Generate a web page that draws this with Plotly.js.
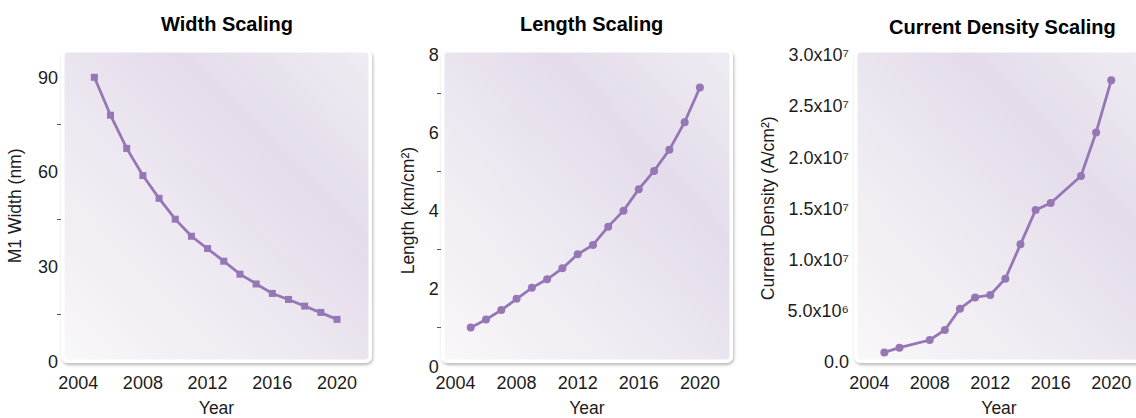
<!DOCTYPE html>
<html>
<head>
<meta charset="utf-8">
<script src="https://cdn.plot.ly/plotly-3.0.1.min.js"></script>
<style>
  html, body { margin: 0; padding: 0; overflow: hidden; background: #ffffff; }
  #chart { width: 1150px; height: 418px; }
</style>
</head>
<body>
<div id="chart"></div>
<script>
// ---------- data ----------
const years = [2005, 2006, 2007, 2008, 2009, 2010, 2011, 2012, 2013, 2014, 2015, 2016, 2017, 2018, 2019, 2020];
const widthNm = [90, 78, 67.5, 58.9, 51.7, 45.1, 39.7, 35.8, 31.8, 27.7, 24.6, 21.6, 19.7, 17.6, 15.6, 13.4];
const lengthKmPerCm2 = [1.00, 1.21, 1.45, 1.74, 2.02, 2.24, 2.52, 2.88, 3.12, 3.59, 4.00, 4.55, 5.02, 5.56, 6.27, 7.16];
const cdYears = [2005, 2006, 2008, 2009, 2010, 2011, 2012, 2013, 2014, 2015, 2016, 2018, 2019, 2020];
const currentDensity = [0.91e6, 1.37e6, 2.12e6, 3.10e6, 5.18e6, 6.29e6, 6.52e6, 8.12e6, 11.48e6, 14.84e6, 15.52e6, 18.16e6, 22.43e6, 27.52e6];

const yearTickVals = [2004, 2008, 2012, 2016, 2020];
const cdTickVals = [0, 5e6, 1e7, 1.5e7, 2e7, 2.5e7, 3e7];
const cdTickText = ['0.0', '5.0x10⁶', '1.0x10⁷', '1.5x10⁷', '2.0x10⁷', '2.5x10⁷', '3.0x10⁷'];

const panelTitles = ['Width Scaling', 'Length Scaling', 'Current Density Scaling'];
const yTitles = ['M1 Width (nm)', 'Length (km/cm²)', 'Current Density (A/cm²)'];
const xTitle = 'Year';

// ---------- geometry (pixels) ----------
const W = 1150, H = 418;
const px = x => x / W;
const py = y => 1 - y / H;

const LINE = '#9677b5';
const FONT = 'Liberation Sans, Arial, Helvetica, sans-serif';
const TXT = '#1c1c1c';

function panelImage(x0, y0, w, h) {
  const pad = 6;
  const vw = w + 2 * pad, vh = h + 2 * pad;
  const svg =
    `<svg xmlns="http://www.w3.org/2000/svg" width="${vw}" height="${vh}" viewBox="0 0 ${vw} ${vh}">` +
    `<defs>` +
    `<linearGradient id="g" x1="0" y1="1" x2="1" y2="0">` +
    `<stop offset="0" stop-color="#f8f7f9"/>` +
    `<stop offset="0.35" stop-color="#efebf2"/>` +
    `<stop offset="0.68" stop-color="#e4dceb"/>` +
    `<stop offset="1" stop-color="#efecf2"/>` +
    `</linearGradient>` +
    `<filter id="s" x="-10%" y="-10%" width="120%" height="120%">` +
    `<feDropShadow dx="1" dy="2" stdDeviation="1.6" flood-color="#000" flood-opacity="0.28"/>` +
    `</filter>` +
    `</defs>` +
    `<rect x="${pad}" y="${pad}" width="${w}" height="${h}" rx="7" ry="7" fill="#ffffff" filter="url(#s)"/>` +
    `<rect x="${pad + 3.5}" y="${pad + 3.5}" width="${w - 7}" height="${h - 7}" rx="3" ry="3" fill="url(#g)"/>` +
    `</svg>`;
  return {
    source: 'data:image/svg+xml;charset=utf-8,' + encodeURIComponent(svg),
    xref: 'paper', yref: 'paper',
    x: px(x0 - pad), y: py(y0 - pad),
    sizex: vw / W, sizey: vh / H,
    xanchor: 'left', yanchor: 'top',
    sizing: 'stretch', layer: 'below'
  };
}

const tickFont = { family: FONT, size: 18, color: TXT };
const titleFont = { family: FONT, size: 17.5, color: TXT };

function xAxis(d0, d1, r0, r1, anchor, standoff) {
  return {
    domain: [px(d0), px(d1)], range: [r0, r1], anchor: anchor,
    tickvals: yearTickVals, ticks: '', showgrid: false, zeroline: false, showline: false,
    tickfont: tickFont, ticklabelstandoff: standoff,
    title: { text: xTitle, font: titleFont, standoff: 16 }
  };
}

const layout = {
  width: W, height: H,
  margin: { l: 0, r: 0, t: 0, b: 0 },
  paper_bgcolor: '#ffffff', plot_bgcolor: 'rgba(0,0,0,0)',
  showlegend: false,
  font: { family: FONT, color: TXT },
  xaxis: xAxis(62, 371, 2003.0, 2022.1, 'y', 8),
  xaxis2: xAxis(441.7, 732, 2003.1, 2022.1, 'y2', 3),
  xaxis3: xAxis(855, 1143, 2003.06, 2022.1, 'y3', 8),
  yaxis: {
    domain: [py(361.7), py(50)], range: [0, 98.64], anchor: 'x',
    tickvals: [0, 30, 60, 90], ticks: '', showgrid: false, zeroline: false, showline: false,
    minor: { tickvals: [15, 45, 75], ticks: 'outside', ticklen: 4, tickcolor: '#555', tickwidth: 1, showgrid: false },
    tickfont: tickFont, ticklabelstandoff: 3,
    title: { text: yTitles[0], font: titleFont, standoff: 11 }
  },
  yaxis2: {
    domain: [py(366.6), py(54.7)], range: [0, 8], anchor: 'x2',
    tickvals: [0, 2, 4, 6, 8], ticks: '', showgrid: false, zeroline: false, showline: false,
    minor: { tickvals: [1, 3, 5, 7], ticks: 'outside', ticklen: 4, tickcolor: '#555', tickwidth: 1, showgrid: false },
    tickfont: tickFont, ticklabelstandoff: 2,
    title: { text: yTitles[1], font: titleFont, standoff: 9 }
  },
  yaxis3: {
    domain: [py(361.7), py(55)], range: [0, 3e7], anchor: 'x3',
    tickvals: cdTickVals, ticktext: cdTickText, ticks: '', showgrid: false, zeroline: false, showline: false,
    tickfont: tickFont, ticklabelstandoff: 5,
    title: { text: yTitles[2], font: titleFont, standoff: 8 }
  },
  images: [
    panelImage(61, 49, 311, 314),
    panelImage(441, 49, 292, 314),
    panelImage(854, 49, 300, 314)
  ],
  annotations: [
    { text: '<b>' + panelTitles[0] + '</b>', x: px(227), y: py(24), xref: 'paper', yref: 'paper',
      showarrow: false, xanchor: 'center', yanchor: 'middle', font: { family: FONT, size: 20, color: '#000' } },
    { text: '<b>' + panelTitles[1] + '</b>', x: px(591), y: py(24), xref: 'paper', yref: 'paper',
      showarrow: false, xanchor: 'center', yanchor: 'middle', font: { family: FONT, size: 20, color: '#000' } },
    { text: '<b>' + panelTitles[2] + '</b>', x: px(1002), y: py(27), xref: 'paper', yref: 'paper',
      showarrow: false, xanchor: 'center', yanchor: 'middle', font: { family: FONT, size: 20, color: '#000' } }
  ]
};

const data = [
  { x: years, y: widthNm, xaxis: 'x', yaxis: 'y', type: 'scatter', mode: 'lines+markers',
    line: { color: LINE, width: 2.8 }, marker: { color: LINE, size: 7, symbol: 'square' }, cliponaxis: false },
  { x: years, y: lengthKmPerCm2, xaxis: 'x2', yaxis: 'y2', type: 'scatter', mode: 'lines+markers',
    line: { color: LINE, width: 2.8 }, marker: { color: LINE, size: 8, symbol: 'circle' }, cliponaxis: false },
  { x: cdYears, y: currentDensity, xaxis: 'x3', yaxis: 'y3', type: 'scatter', mode: 'lines+markers',
    line: { color: LINE, width: 2.8 }, marker: { color: LINE, size: 8, symbol: 'circle' }, cliponaxis: false }
];

Plotly.newPlot('chart', data, layout, { displayModeBar: false, staticPlot: true });
</script>
</body>
</html>
